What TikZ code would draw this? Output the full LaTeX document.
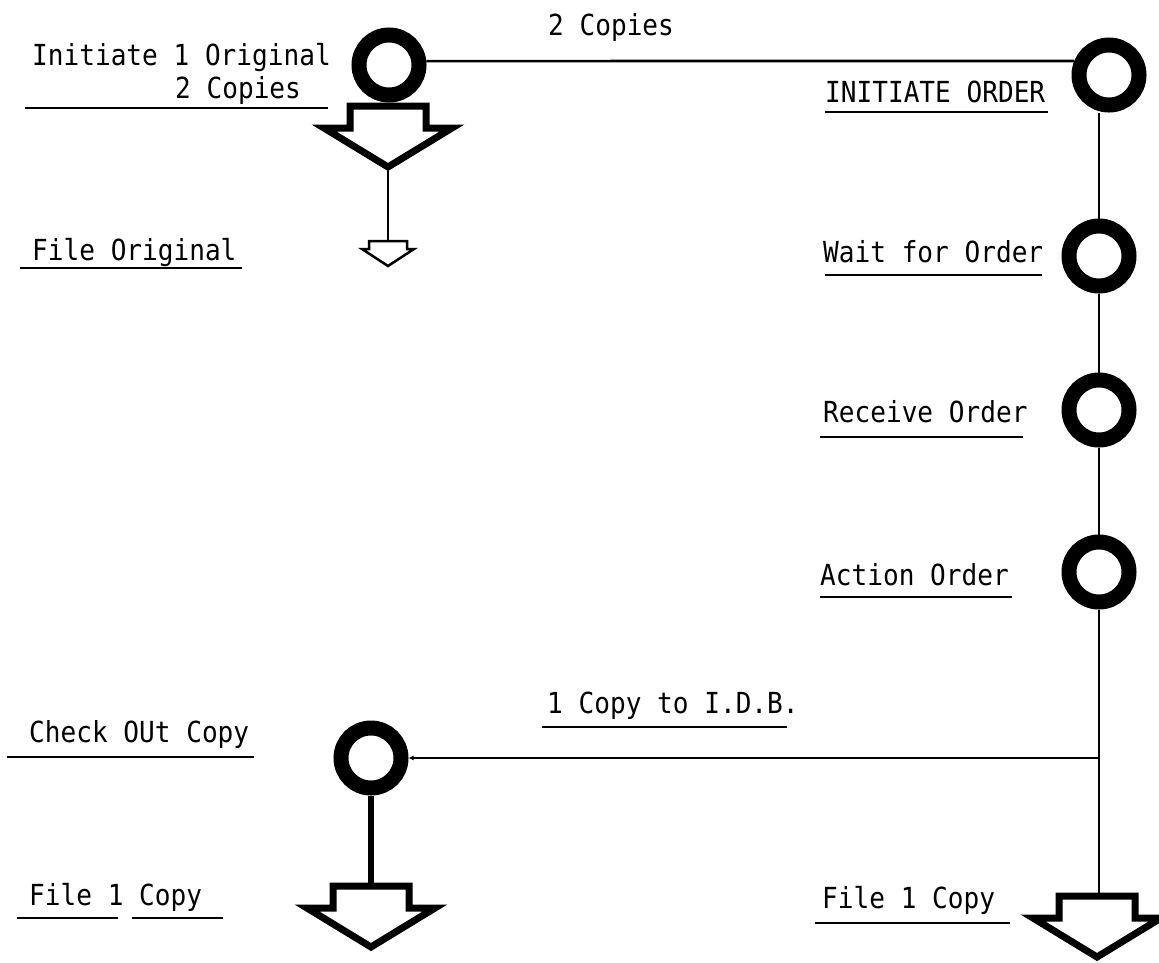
\documentclass[tikz,border=0pt]{standalone}
\usepackage{fontspec}
\newfontfamily\tw[FakeStretch=0.9]{DejaVu Sans Mono}
\usetikzlibrary{arrows.meta}
\begin{document}
\begin{tikzpicture}[x=1pt,y=-1pt,
  ring/.style={circle,draw,line width=15pt,minimum size=60pt,inner sep=0pt},
  lbl/.style={anchor=base west,inner sep=0pt,font=\tw\fontsize{29}{32}\selectfont},
  conn/.style={line width=2.6pt},
  uline/.style={line width=2.4pt},
  heavy/.style={line width=6.5pt},
  bigfile/.pic={
    \draw[line width=7pt,fill=white,miter limit=10]
      (-38,0) -- (38,0) -- (38,22) -- (64,22) -- (0,61) -- (-64,22) -- (-38,22) -- cycle;
    \coordinate (-top) at (0,-3);
    \coordinate (-tip) at (0,65);},
  smallfile/.pic={
    \draw[line width=2.5pt,fill=white,miter limit=10]
      (-19,0) -- (19,0) -- (19,8) -- (26,8) -- (0,25) -- (-26,8) -- (-19,8) -- cycle;
    \coordinate (-top) at (0,-1);}
]
\useasboundingbox (0,0) rectangle (1159,962);

% rings
\node[ring] (c1) at (389,65) {};
\node[ring] (c2) at (1109,75) {};
\node[ring] (wait) at (1099,256) {};
\node[ring] (recv) at (1099,410) {};
\node[ring] (act) at (1099,572) {};
\node[ring] (c3) at (371,758) {};

% file arrows
\pic (a1) at (388,106) {bigfile};
\pic (s1) at (388,241) {smallfile};
\pic (a2) at (371,886) {bigfile};
\pic (a3) at (1097,896) {bigfile};

% connectors
\draw[conn] (c1.6) -- (c2.158);
\draw[conn] (wait.north |- c2.south) -- (wait.north);
\draw[conn] (wait.south) -- (recv.north);
\draw[conn] (recv.south) -- (act.north);
\coordinate (j) at (act.south |- c3.east);
\draw[conn] (act.south) -- (act.south |- a3-top);
\draw[conn,-{Latex[length=5pt,width=5pt]}] (j) -- (c3.east);
\draw[conn] (a1-tip) -- (s1-top);
\draw[heavy] (c3.south) -- (a2-top);

% labels
\node[lbl] (t1) at (32,65) {Initiate 1 Original};
\node[lbl] (t2) at (175,98) {2 Copies};
\node[lbl] (t3) at (32,260) {File Original};
\node[lbl] (t4) at (548,35) {2 Copies};
\node[lbl] (t5) at (825,102) {INITIATE ORDER};
\node[lbl] (t6) at (823,262) {Wait for Order};
\node[lbl] (t7) at (823,422) {Receive Order};
\node[lbl] (t8) at (820,585) {Action Order};
\node[lbl] (t9) at (547,713) {1 Copy to I.D.B.};
\node[lbl] (t10) at (29,742) {Check OUt Copy};
\node[lbl] (t11) at (29,905) {File 1 Copy};
\node[lbl] (t12) at (822,908) {File 1 Copy};

% underlines
\draw[uline] (25,108) -- (328,108);
\draw[uline] (20,268) -- (242,268);
\draw[uline] (825,112) -- (1048,112);
\draw[uline] (825,275) -- (1042,275);
\draw[uline] (820,437) -- (1023,437);
\draw[uline] (820,597) -- (1012,597);
\draw[uline] (542,727) -- (787,727);
\draw[uline] (7,757) -- (254,757);
\draw[uline] (17,918) -- (118,918);
\draw[uline] (132,918) -- (223,918);
\draw[uline] (815,923) -- (1010,923);
\end{tikzpicture}
\end{document}
